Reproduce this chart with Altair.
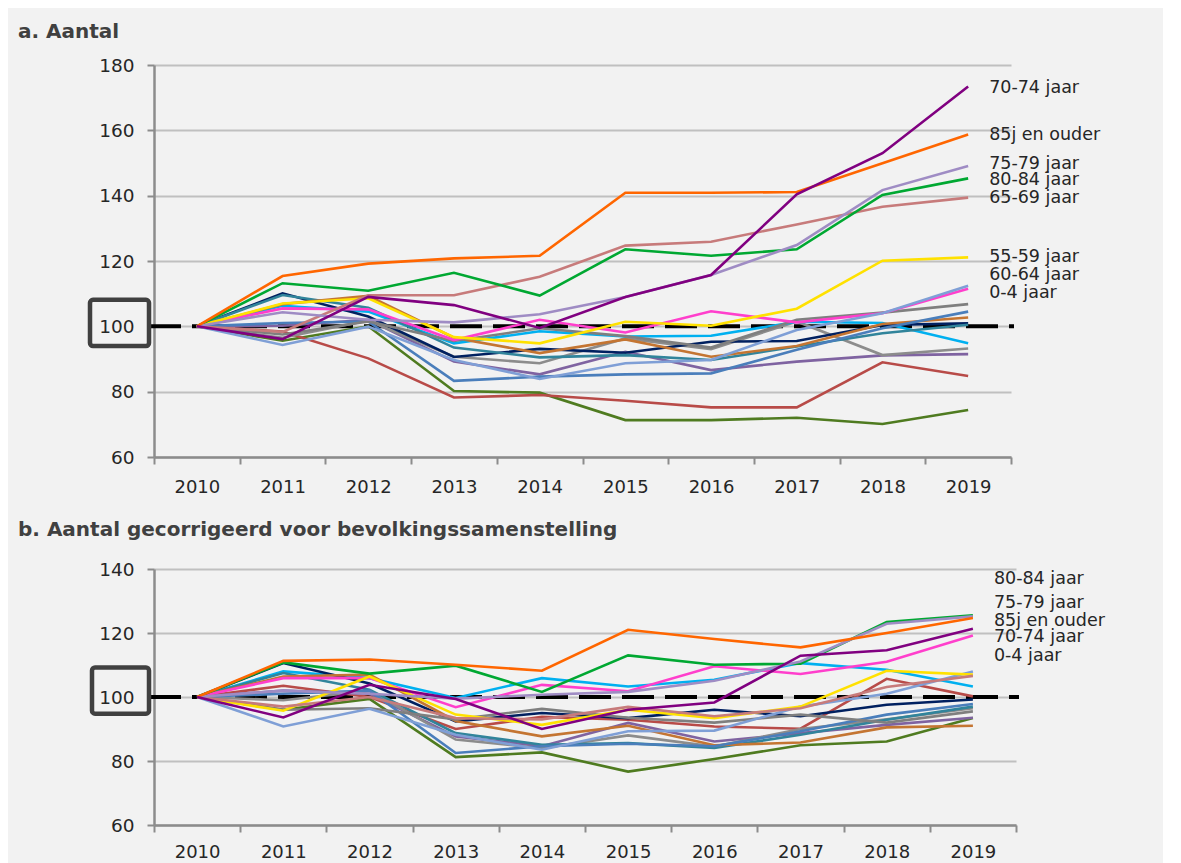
import altair as alt
import pandas as pd

years = [str(y) for y in range(2010, 2020)]

groups = ["5-9 jaar", "10-14 jaar", "15-19 jaar", "20-24 jaar", "25-29 jaar",
          "30-34 jaar", "35-39 jaar", "40-44 jaar", "45-49 jaar", "50-54 jaar",
          "0-4 jaar", "60-64 jaar", "55-59 jaar", "65-69 jaar", "80-84 jaar",
          "75-79 jaar", "85j en ouder", "70-74 jaar"]
colors = ["#4f7b20", "#b84b48", "#7f63a1", "#8c8c8c", "#00b0f0",
          "#002060", "#31849b", "#c47532", "#4a7ebb", "#7f7f7f",
          "#ff3fcc", "#7f9fd6", "#ffe100", "#c77b7b", "#00a832",
          "#9f8cc4", "#ff6600", "#800080"]

# panel a: Aantal (index 2010 = 100)
a_values = {
    "5-9 jaar":     [100, 95.6, 100, 80.2, 79.7, 71.3, 71.3, 72.0, 70.1, 74.4],
    "10-14 jaar":   [100, 98.4, 90.2, 78.2, 79.0, 77.2, 75.2, 75.2, 89.0, 84.8],
    "15-19 jaar":   [100, 100.2, 102, 89.2, 85.3, 92.2, 86.6, 89.2, 91.1, 91.5],
    "20-24 jaar":   [100, 96.5, 101.8, 90.7, 88.7, 96.3, 93.0, 101.5, 91.2, 93.2],
    "25-29 jaar":   [100, 106.3, 104.5, 94.8, 98.5, 96.9, 97.1, 101.4, 101.0, 94.8],
    "30-34 jaar":   [100, 110.1, 103, 90.6, 93.1, 91.9, 95.3, 95.5, 100.4, 100.9],
    "35-39 jaar":   [100, 109.6, 105.7, 93.5, 90.5, 91.2, 89.7, 93.8, 97.9, 100.5],
    "40-44 jaar":   [100, 106.8, 109.3, 96.5, 91.8, 96.0, 90.7, 94.0, 100.7, 102.7],
    "45-49 jaar":   [100, 101, 101.5, 83.3, 84.6, 85.3, 85.6, 92.8, 99.4, 104.5],
    "50-54 jaar":   [100, 97.5, 101.5, 95.5, 99.4, 97.0, 93.5, 102.0, 104.2, 106.8],
    "0-4 jaar":     [100, 105.5, 105.2, 95.8, 102.0, 98.1, 104.6, 101.2, 104.0, 111.5],
    "60-64 jaar":   [100, 94.3, 99.9, 89.7, 83.9, 88.7, 89.7, 98.9, 104.0, 112.4],
    "55-59 jaar":   [100, 107, 108.6, 96.7, 94.8, 101.4, 100.2, 105.4, 120.1, 121.1],
    "65-69 jaar":   [100, 98.3, 109.5, 109.5, 115.2, 124.7, 125.9, 131.2, 136.6, 139.4],
    "80-84 jaar":   [100, 113.2, 110.9, 116.4, 109.4, 123.6, 121.6, 123.6, 140.2, 145.3],
    "75-79 jaar":   [100, 104.3, 102, 101.2, 103.7, 109.0, 115.7, 124.9, 141.7, 149.1],
    "85j en ouder": [100, 115.4, 119.2, 120.8, 121.6, 140.9, 140.9, 141.1, 149.9, 158.7],
    "70-74 jaar":   [100, 96.1, 109, 106.5, 99.5, 109.0, 115.7, 140.4, 153.0, 173.4],
}

# panel b: gecorrigeerd voor bevolkingssamenstelling
b_values = {
    "5-9 jaar":     [100, 96, 99.4, 81.2, 82.7, 76.7, 80.6, 84.9, 86.1, 93.4],
    "10-14 jaar":   [100, 103.5, 100, 90.0, 93.8, 92.9, 90.8, 90.1, 105.7, 100.2],
    "15-19 jaar":   [100, 102, 101, 87.7, 84.6, 91.9, 86.1, 88.7, 91.3, 93.5],
    "20-24 jaar":   [100, 99, 102, 86.7, 84.0, 88.0, 84.5, 90.0, 93.0, 96.5],
    "25-29 jaar":   [100, 108, 105.9, 99.7, 105.9, 103.3, 105.4, 110.6, 108.5, 103.3],
    "30-34 jaar":   [100, 110.6, 104.2, 92.4, 95.0, 93.4, 96.0, 94.0, 97.6, 99.2],
    "35-39 jaar":   [100, 107.5, 102.3, 88.7, 85.1, 85.6, 84.1, 88.2, 92.9, 97.0],
    "40-44 jaar":   [100, 106.4, 107, 92.5, 87.7, 91.0, 84.9, 85.8, 90.5, 91.0],
    "45-49 jaar":   [100, 101, 102, 82.5, 84.6, 85.4, 84.6, 89.3, 94.5, 97.8],
    "50-54 jaar":   [100, 96, 96.5, 93.0, 96.3, 93.5, 92.0, 94.5, 92.0, 95.5],
    "0-4 jaar":     [100, 105.9, 105.9, 96.8, 103.8, 101.8, 109.6, 107.2, 111.0, 119.2],
    "60-64 jaar":   [100, 90.8, 96.3, 88.2, 83.5, 89.3, 89.5, 97.0, 101.0, 108.0],
    "55-59 jaar":   [100, 95.7, 106.4, 94.5, 91.3, 96.0, 93.4, 97.0, 108.2, 107.0],
    "65-69 jaar":   [100, 97, 100, 93.4, 93.0, 96.9, 94.0, 96.5, 103.1, 106.6],
    "80-84 jaar":   [100, 110.8, 107.3, 109.8, 101.6, 113.0, 110.1, 110.4, 123.4, 125.5],
    "75-79 jaar":   [100, 102, 101, 99.5, 100.7, 101.6, 105.1, 111.1, 122.9, 125.2],
    "85j en ouder": [100, 111.3, 111.7, 110.1, 108.2, 121.0, 118.1, 115.5, 120.0, 124.7],
    "70-74 jaar":   [100, 93.6, 103.8, 99.4, 90.0, 96.0, 98.3, 112.9, 114.6, 121.3],
}

a_labels = ["70-74 jaar", "85j en ouder", "75-79 jaar", "80-84 jaar", "65-69 jaar",
            "55-59 jaar", "60-64 jaar", "0-4 jaar"]
a_label_y = [173.0, 158.6, 149.6, 144.9, 139.3, 121.2, 115.7, 110.2]
b_labels = ["80-84 jaar", "75-79 jaar", "85j en ouder", "70-74 jaar", "0-4 jaar"]
b_label_y = [137.0, 129.5, 123.8, 118.8, 112.9]

FONT = "DejaVu Sans"
TXT = "#262626"
AX = "#8c8c8c"


def long_df(values):
    rows = []
    for g in groups:
        for y, v in zip(years, values[g]):
            rows.append({"year": y, "group": g, "value": v})
    return pd.DataFrame(rows)


def panel(values, labels, label_y, ymin, ymax, width, height, title, box_lo, box_hi, box_x, title_y, lab_pad):
    df = long_df(values)
    xenc = alt.X("year:O", title=None,
                 scale=alt.Scale(type="band", domain=years, paddingInner=0, paddingOuter=0),
                 axis=alt.Axis(labelAngle=0, tickBand="extent", tickSize=7, tickWidth=2,
                               tickColor=AX, domainColor=AX, domainWidth=2.5,
                               labelFontSize=18, labelFont=FONT, labelColor=TXT,
                               labelPadding=lab_pad, grid=False))
    yenc = alt.Y("value:Q", title=None,
                 scale=alt.Scale(domain=[ymin, ymax], nice=False, zero=False),
                 axis=alt.Axis(values=list(range(ymin, ymax + 1, 20)), grid=True,
                               gridColor="#c0c0c0", gridWidth=2, tickSize=7, tickWidth=2,
                               tickColor=AX, domainColor=AX, domainWidth=2.5,
                               labelFontSize=18.5, labelFont=FONT, labelColor=TXT,
                               labelPadding=13))
    lines = alt.Chart(df).mark_line(strokeWidth=2.6, clip=False).encode(
        x=xenc, y=yenc,
        color=alt.Color("group:N", scale=alt.Scale(domain=groups, range=colors), legend=None),
        detail="group:N",
    )
    ref = alt.Chart(pd.DataFrame({"ref": [100]})).mark_rule(
        color="black", strokeWidth=4, strokeDash=[32, 11]
    ).encode(y=alt.Y("ref:Q"), x=alt.value(-5), x2=alt.value(width + 3))
    box = alt.Chart(pd.DataFrame({"lo": [box_lo], "hi": [box_hi]})).mark_rect(
        fillOpacity=0, stroke="#404040", strokeWidth=4.5, cornerRadius=3
    ).encode(y=alt.Y("hi:Q"), y2="lo:Q", x=alt.value(box_x), x2=alt.value(-5))
    lab_df = pd.DataFrame({"year": ["2019"] * len(labels), "lab": labels, "ly": label_y})
    labs = alt.Chart(lab_df).mark_text(
        align="left", baseline="middle", font=FONT, fontSize=17.5, color=TXT, dx=21
    ).encode(x=alt.X("year:O"), y=alt.Y("ly:Q"), text="lab:N")
    ttl = alt.Chart(pd.DataFrame({"t": [title]})).mark_text(
        align="left", baseline="middle", font=FONT, fontSize=20, fontWeight="bold", color="#404040"
    ).encode(text="t:N", x=alt.value(-136), y=alt.value(title_y))
    return alt.layer(ref, lines, box, labs, ttl).properties(width=width, height=height)


top = panel(a_values, a_labels, a_label_y, 60, 180, 857, 392, "a. Aantal", 94.0, 108.1, -64, -33, 14)
bottom = panel(b_values, b_labels, b_label_y, 60, 140, 862, 256,
               "b. Aantal gecorrigeerd voor bevolkingssamenstelling", 94.8, 109.2, -62, -39, 11)

chart = alt.vconcat(top, bottom, spacing=24).properties(
    background="#f2f2f2",
    padding={"left": 10, "top": 14, "right": 58, "bottom": 3},
).configure_view(strokeWidth=0)

chart.save("out.html", embed_options={"renderer": "svg", "actions": False})
